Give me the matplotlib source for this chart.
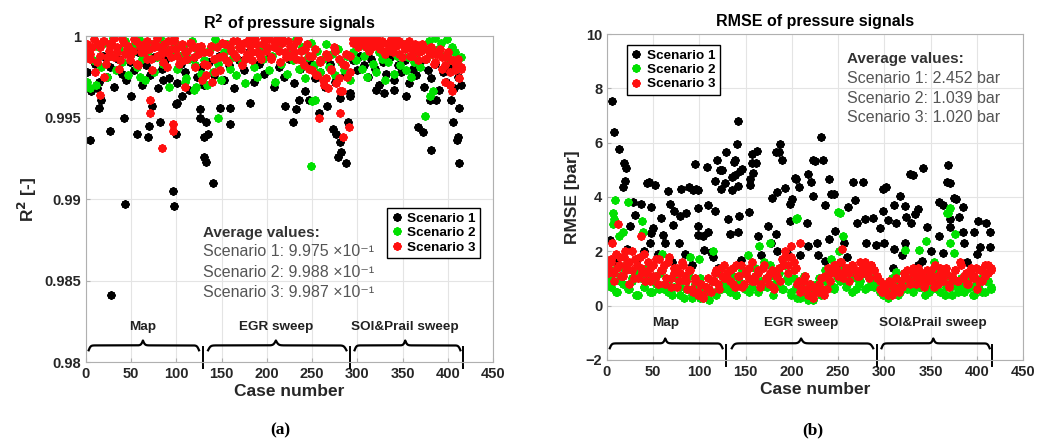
import numpy as np
import matplotlib as mpl
mpl.use('Agg')
import matplotlib.pyplot as plt
import matplotlib.transforms as mtransforms

plt.rcParams['font.family'] = ['Liberation Sans', 'DejaVu Sans']

## test segments (case ranges) and their labels
segments = [(1, 127), (130, 292), (295, 415)]
seg_labels = ['Map', 'EGR sweep', 'SOI&Prail sweep']
seg_centres = [63, 210, 353]
seg_braces = [(3, 125), (135, 288), (297, 414)]
seg_bounds = [129, 292, 417]

## R2 -- dense band per segment (Map, EGR, SOI)
r2_s1_band = [
    [0.9978, 0.9966, 0.9983, 0.9972, 0.9988, 0.9975, 0.9981, 0.9969, 0.9986, 0.9977,
     0.9973, 0.9984, 0.9979, 0.9990, 0.9970, 0.9982, 0.9976, 0.9987, 0.9968, 0.9980,
     0.9985, 0.9974, 0.9989, 0.9971, 0.9983, 0.9978, 0.9967, 0.9986, 0.9975, 0.9981],
    [0.9970, 0.9984, 0.9976, 0.9988, 0.9973, 0.9982, 0.9968, 0.9985, 0.9979, 0.9990,
     0.9972, 0.9983, 0.9977, 0.9987, 0.9969, 0.9981, 0.9975, 0.9986, 0.9971, 0.9980,
     0.9966, 0.9984, 0.9974, 0.9978, 0.9969, 0.9983, 0.9972, 0.9962, 0.9976, 0.9965],
    [0.9985, 0.9979, 0.9988, 0.9982, 0.9975, 0.9986, 0.9980, 0.9970, 0.9984, 0.9977,
     0.9987, 0.9973, 0.9982, 0.9978, 0.9985, 0.9971, 0.9980, 0.9976, 0.9984, 0.9969,
     0.9979, 0.9974, 0.9983, 0.9967, 0.9978, 0.9972, 0.9981, 0.9968, 0.9975, 0.9970],
]
r2_s1_case = [4, 12, 14, 17, 27, 28, 42, 43, 50, 56, 69, 70, 73, 82, 85, 96, 97, 100, 100,
              101, 106, 126, 126, 130, 131, 133, 141, 133, 135, 148, 159, 159, 181, 220,
              229, 232, 236, 247, 258, 266, 273, 276, 281, 279, 282, 288, 290, 292, 321,
              330, 341, 354, 367, 373, 382, 380, 387, 404, 406, 410, 411, 412, 413]
r2_s1_val = [0.9936, 0.9968, 0.9956, 0.9961, 0.9942, 0.9841, 0.9950, 0.9897, 0.9963, 0.9940,
             0.9938, 0.9945, 0.9957, 0.9947, 0.9973, 0.9905, 0.9896, 0.9940, 0.9958, 0.9959,
             0.9963, 0.9955, 0.9950, 0.9938, 0.9926, 0.9923, 0.9910, 0.9947, 0.9940, 0.9956,
             0.9956, 0.9946, 0.9959, 0.9957, 0.9947, 0.9955, 0.9961, 0.9961, 0.9953, 0.9957,
             0.9943, 0.9940, 0.9935, 0.9926, 0.9929, 0.9922, 0.9947, 0.9963, 0.9967, 0.9965,
             0.9967, 0.9963, 0.9944, 0.9941, 0.9930, 0.9961, 0.9961, 0.9961, 0.9947, 0.9936,
             0.9938, 0.9922, 0.9956]

r2_s2_band = [
    [0.9972, 0.9968, 0.9985, 0.9970, 0.9993, 0.9981, 0.9996, 0.9975, 0.9988, 0.9999,
     0.9979, 0.9992, 0.9984, 0.9997, 0.9976, 0.9989, 0.9994, 0.9981, 0.9998, 0.9986,
     0.9973, 0.9991, 0.9995, 0.9978, 0.9987, 0.9999, 0.9983, 0.9992, 0.9969, 0.9990,
     0.9996, 0.9980, 0.9988, 0.9994, 0.9974, 0.9986, 0.9997, 0.9982, 0.9991, 0.9977],
    [0.9985, 0.9970, 0.9992, 0.9978, 0.9998, 0.9983, 0.9973, 0.9990, 0.9995, 0.9980,
     0.9987, 0.9976, 0.9993, 0.9984, 0.9971, 0.9989, 0.9996, 0.9981, 0.9975, 0.9992,
     0.9986, 0.9999, 0.9979, 0.9988, 0.9972, 0.9994, 0.9983, 0.9997, 0.9977, 0.9990,
     0.9985, 0.9998, 0.9980, 0.9993, 0.9974, 0.9987, 0.9996, 0.9982, 0.9991, 0.9978,
     0.9986, 0.9995, 0.9981, 0.9989, 0.9976, 0.9992, 0.9984, 0.9979, 0.9988, 0.9973],
    [0.9990, 0.9985, 0.9994, 0.9980, 0.9988, 0.9975, 0.9992, 0.9983, 0.9978, 0.9990,
     0.9986, 0.9973, 0.9984, 0.9991, 0.9977, 0.9988, 0.9982, 0.9995, 0.9979, 0.9987,
     0.9975, 0.9984, 0.9990, 0.9981, 0.9993, 0.9986, 0.9997, 0.9989, 0.9999, 0.9992,
     0.9996, 0.9988, 0.9998, 0.9985, 0.9993, 0.9990, 0.9982, 0.9987],
]
r2_s2_case = [146, 249, 250, 253, 375, 380, 384, 60, 110, 120, 122]
r2_s2_val = [0.9950, 0.9920, 0.9960, 0.9961, 0.9951, 0.9963, 0.9966, 0.9975, 0.9972, 0.9967, 0.9969]

r2_s3_band = [
    [0.9990, 0.9986, 0.9993, 0.9978, 0.9995, 0.9988, 0.9997, 0.9983, 0.9991, 0.9996,
     0.9987, 0.9993, 0.9980, 0.9998, 0.9989, 0.9994, 0.9985, 0.9991, 0.9997, 0.9982,
     0.9990, 0.9995, 0.9986, 0.9992, 0.9979, 0.9996, 0.9988, 0.9993, 0.9984, 0.9990,
     0.9997, 0.9987, 0.9999, 0.9992, 0.9983, 0.9995, 0.9990, 0.9986, 0.9996, 0.9993,
     0.9981, 0.9989, 0.9994],
    [0.9983, 0.9976, 0.9990, 0.9972, 0.9986, 0.9993, 0.9979, 0.9988, 0.9995, 0.9984, 0.9991,
     0.9997, 0.9987, 0.9993, 0.9982, 0.9996, 0.9989, 0.9994, 0.9985, 0.9998, 0.9990, 0.9986,
     0.9995, 0.9991, 0.9998, 0.9987, 0.9993, 0.9999, 0.9984, 0.9996, 0.9990, 0.9997, 0.9988,
     0.9994, 0.9986, 0.9998, 0.9991, 0.9982, 0.9995, 0.9988, 0.9979, 0.9992, 0.9976, 0.9985,
     0.9973, 0.9989, 0.9968, 0.9980, 0.9993, 0.9971, 0.9986, 0.9966, 0.9982, 0.9975, 0.9988],
    [0.9996, 0.9999, 0.9993, 0.9998, 0.9995, 0.9999, 0.9991, 0.9997, 0.9994, 0.9998,
     0.9992, 0.9996, 0.9989, 0.9995, 0.9998, 0.9990, 0.9994, 0.9997, 0.9987, 0.9993,
     0.9996, 0.9988, 0.9992, 0.9995, 0.9985, 0.9991, 0.9994, 0.9986, 0.9990, 0.9993,
     0.9983, 0.9989, 0.9992, 0.9980, 0.9987, 0.9990, 0.9978, 0.9985, 0.9982, 0.9974, 0.9980],
]
r2_s3_band2 = [
    [0.9995, 0.9989, 0.9998, 0.9984, 0.9993, 0.9997, 0.9987, 0.9994, 0.9999, 0.9990,
     0.9985, 0.9996, 0.9992, 0.9988, 0.9998, 0.9983, 0.9994, 0.9990, 0.9997, 0.9986,
     0.9993, 0.9999, 0.9989, 0.9995, 0.9981, 0.9992, 0.9997, 0.9988, 0.9994, 0.9985,
     0.9991, 0.9996, 0.9987, 0.9993, 0.9990],
    [0.9990, 0.9982, 0.9994, 0.9978, 0.9987, 0.9996, 0.9985, 0.9993, 0.9989, 0.9997,
     0.9992, 0.9986, 0.9998, 0.9990, 0.9995, 0.9988, 0.9999, 0.9993, 0.9986, 0.9996,
     0.9991, 0.9998, 0.9987, 0.9994, 0.9990, 0.9997, 0.9985, 0.9992, 0.9980, 0.9988,
     0.9976, 0.9984, 0.9970, 0.9987, 0.9979, 0.9991, 0.9974, 0.9983, 0.9989, 0.9978],
    [0.9998, 0.9995, 0.9999, 0.9997, 0.9993, 0.9998, 0.9996, 0.9999, 0.9994, 0.9997,
     0.9991, 0.9996, 0.9993, 0.9998, 0.9989, 0.9995, 0.9992, 0.9997, 0.9988, 0.9994,
     0.9990, 0.9995, 0.9986, 0.9992, 0.9989, 0.9984, 0.9991, 0.9987, 0.9982, 0.9990,
     0.9985, 0.9979, 0.9986, 0.9981],
]
r2_s3_case = [15, 20, 71, 71, 84, 96, 96, 109, 128, 258, 265, 281, 281, 284, 291, 397, 402, 405]
r2_s3_val = [0.9964, 0.9975, 0.9961, 0.9953, 0.9931, 0.9946, 0.9942, 0.9969, 0.9973, 0.9950,
             0.9974, 0.9966, 0.9953, 0.9938, 0.9944, 0.9972, 0.9970, 0.9966]

## RMSE [bar]
rmse_s1_case = [5, 8, 13, 18, 21, 20, 17, 28, 30, 25, 37, 43, 45, 52, 48, 58, 48, 50, 47, 61,
                63, 66, 68, 71, 73, 79, 78, 80, 85, 89, 93, 95, 96, 99, 99, 98, 98, 104, 105,
                108, 109, 109, 113, 115, 117, 117, 119, 122, 123, 124, 128, 129, 131, 133, 3,
                10, 22, 33, 40, 55, 70, 84, 92, 120,
                135, 135, 137, 138, 141, 142, 139, 142, 143, 142, 144, 145, 146, 154, 155, 155,
                157, 157, 158, 161, 162, 163, 167, 174, 177, 179, 183, 183, 184, 184, 186, 187,
                189, 193, 195, 198, 198, 200, 203, 205, 208, 209, 216, 218, 218, 221, 223, 223,
                225, 227, 228, 232, 234, 236, 236, 240, 240, 242, 246, 247, 256, 261, 266, 268,
                270, 277, 279, 280, 288, 291, 260, 250,
                295, 299, 299, 300, 302, 304, 309, 310, 311, 311, 313, 317, 319, 322, 322, 323,
                329, 328, 331, 333, 336, 336, 341, 342, 346, 351, 359, 359, 363, 364, 368, 369,
                371, 371, 371, 375, 378, 381, 385, 385, 386, 397, 400, 401, 404, 410, 414, 414,
                390, 355]
rmse_s1_val = [7.55, 6.38, 5.78, 5.24, 5.08, 4.60, 4.35, 3.82, 3.33, 2.95, 3.75, 4.52, 4.55, 4.45,
               3.62, 3.21, 2.66, 2.85, 2.30, 2.60, 2.30, 4.22, 3.75, 2.96, 3.50, 3.30, 2.30, 4.28,
               3.40, 4.37, 4.25, 5.23, 4.30, 4.27, 3.60, 2.95, 2.60, 2.55, 2.05, 5.10, 3.70, 2.72,
               1.98, 1.80, 4.60, 3.48, 5.35, 5.00, 4.30, 4.98, 4.50, 5.65, 3.20, 2.62, 2.40,
               1.60, 2.10, 1.70, 2.00, 1.90, 1.60, 1.90, 1.50, 1.40,
               4.74, 4.25, 5.30, 5.35, 5.95, 6.79, 4.80, 4.40, 3.30, 2.70, 4.95, 1.68, 5.04, 3.45,
               4.45, 4.65, 5.57, 5.25, 4.90, 5.25, 5.70, 2.57, 1.87, 2.92, 2.30, 3.98, 2.63, 5.65,
               4.20, 2.00, 5.65, 5.96, 5.38, 4.33, 1.93, 3.75, 3.10, 3.93, 4.69, 4.68, 4.38, 1.87,
               3.05, 2.18, 4.85, 4.56, 4.05, 5.35, 5.33, 2.30, 1.87, 6.20, 5.35, 3.70, 1.63, 4.68,
               2.44, 4.10, 4.10, 2.73, 2.30, 3.65, 4.55, 3.89, 3.05, 4.55, 3.20, 2.30, 3.23, 2.22,
               1.80, 1.50,
               2.87, 4.31, 3.50, 2.30, 4.35, 3.17, 1.38, 3.70, 2.10, 0.95, 3.05, 4.03, 1.87, 3.66,
               2.30, 3.26, 3.05, 4.85, 4.80, 3.38, 3.56, 1.50, 1.65, 5.08, 2.90, 2.00, 3.80, 2.57,
               3.72, 1.93, 4.55, 5.16, 4.50, 3.20, 2.90, 3.95, 3.92, 3.25, 3.62, 2.70, 2.30, 2.70,
               1.90, 3.10, 2.15, 3.05, 2.70, 2.15, 1.60, 1.40]

rmse_s2_band = [
    [1.0, 0.7, 1.3, 0.5, 1.1, 0.8, 1.5, 0.6, 0.9, 1.2,
     0.4, 1.0, 0.7, 1.4, 0.5, 0.9, 1.1, 0.6, 1.3, 0.8,
     0.5, 1.0, 0.7, 1.2, 0.4, 0.9, 0.6, 1.1, 0.3, 0.8,
     0.5, 1.0, 0.3, 0.7, 0.2, 0.9, 0.5, 1.2, 0.6, 0.9],
    [0.8, 0.5, 1.1, 0.4, 0.9, 1.3, 0.6, 1.0, 0.7, 1.4,
     0.5, 0.9, 1.6, 0.7, 1.1, 0.4, 0.8, 1.2, 0.6, 1.5,
     0.9, 0.5, 1.0, 0.3, 0.7, 1.1, 0.4, 0.8, 0.2, 0.6,
     1.0, 0.5, 1.3, 0.8, 1.7, 0.6, 1.1, 0.9, 1.4, 0.7,
     1.2, 0.5, 1.0, 0.8, 1.3, 0.6, 1.1, 0.9, 0.7, 1.0],
    [0.6, 0.4, 0.8, 0.5, 1.0, 0.7, 0.4, 0.9, 1.2, 0.6,
     0.8, 0.5, 1.1, 0.7, 0.9, 0.4, 1.0, 0.6, 1.3, 0.8,
     0.5, 0.9, 0.7, 1.1, 0.4, 0.8, 0.6, 1.0, 0.5, 0.9,
     0.7, 0.4, 0.8, 0.6, 1.0, 0.5, 0.9, 0.7],
]
rmse_s2_band2 = [
    [0.8, 1.2, 0.5, 0.9, 1.4, 0.6, 1.0, 0.4, 1.3, 0.7, 1.1, 0.5, 0.8, 1.2, 0.6,
     0.9, 0.4, 1.0, 0.7, 0.3, 0.6, 0.4, 0.8, 0.3, 0.6, 0.5, 0.9, 0.4, 0.7, 1.0],
    [0.6, 1.0, 0.4, 0.8, 1.2, 0.5, 0.9, 1.3, 0.7, 1.0, 1.5, 0.8, 1.2, 0.6, 1.0, 0.4, 0.7, 0.3,
     0.6, 0.2, 0.5, 0.8, 0.4, 0.9, 1.2, 0.7, 1.0, 1.4, 0.8, 1.1, 0.6, 0.9, 1.2, 0.7, 1.0, 0.8],
    [0.5, 0.7, 0.3, 0.6, 0.9, 0.5, 0.8, 1.0, 0.6, 0.9, 0.7, 1.1, 0.5, 0.8,
     0.6, 1.0, 0.4, 0.7, 0.9, 0.5, 0.8, 0.6, 1.0, 0.4, 0.7, 0.5, 0.9, 0.6],
]
rmse_s2_case = [9, 23, 7, 8, 13, 17, 38, 39, 7, 90, 205, 250, 252, 206, 176, 255, 251, 164, 153,
                368, 371, 369, 376, 371, 345, 338, 322, 375, 354, 313, 60, 100, 115, 3]
rmse_s2_val = [3.88, 3.83, 3.40, 3.20, 2.55, 2.70, 3.10, 2.70, 3.00, 1.80, 3.20, 3.45, 3.40, 3.23,
               2.30, 2.57, 2.00, 2.18, 1.87, 3.40, 3.58, 3.40, 2.63, 2.30, 2.37, 2.05, 2.05, 1.93,
               1.60, 1.25, 1.90, 1.70, 2.00, 1.00]

rmse_s3_band = [
    [1.4, 1.7, 1.2, 1.9, 1.5, 1.1, 1.8, 1.3, 1.6, 2.0,
     1.0, 1.5, 1.8, 1.2, 0.9, 1.6, 1.4, 1.1, 1.7, 0.8,
     1.3, 1.5, 1.0, 1.8, 0.7, 1.2, 1.4, 0.9, 1.6, 1.1,
     0.6, 1.3, 0.5, 0.9, 0.4, 0.8, 0.3, 0.7, 1.0, 0.5,
     0.9, 1.3, 0.6, 1.1, 1.5],
    [1.2, 0.9, 1.4, 0.7, 1.1, 1.5, 0.8, 1.3, 1.0, 1.6,
     0.9, 1.2, 0.7, 1.4, 1.0, 0.8, 1.3, 0.6, 1.1, 0.9,
     1.5, 1.8, 1.2, 2.2, 1.6, 1.4, 0.9, 0.6, 1.1, 0.4,
     0.8, 0.3, 0.7, 0.5, 1.0, 0.4, 0.6, 0.9, 1.3, 1.5,
     1.1, 1.6, 1.2, 1.4, 0.9, 1.5, 1.3, 1.1, 1.6, 1.2,
     1.4, 1.0, 1.5, 1.3, 1.1],
    [0.9, 0.5, 0.7, 0.4, 0.8, 0.6, 1.0, 0.5, 0.7, 1.1,
     1.3, 0.9, 1.2, 0.8, 1.4, 1.0, 0.7, 1.3, 1.1, 0.9,
     1.5, 0.8, 1.2, 1.0, 1.4, 0.7, 1.1, 1.3, 0.9, 1.6,
     1.0, 1.2, 0.8, 1.4, 1.1, 0.6, 1.3, 0.9, 1.5, 1.2, 1.4],
]
rmse_s3_band2 = [
    [1.2, 1.6, 0.9, 1.4, 1.8, 1.1, 1.5, 0.8, 1.3, 1.7, 1.0, 1.4, 1.9, 1.2, 0.9, 1.5, 1.1, 1.7,
     1.3, 0.8, 1.6, 1.0, 1.4, 0.7, 1.2, 1.5, 0.9, 1.3, 0.6, 1.0, 0.5, 0.8, 0.4, 0.7, 0.6, 0.9,
     1.2, 0.8, 1.4, 1.0],
    [1.0, 1.3, 0.8, 1.5, 1.1, 0.7, 1.2, 1.4, 0.9, 1.1, 1.3, 0.8, 1.5, 1.0, 1.2, 0.7, 1.1, 1.4,
     1.7, 2.0, 1.5, 1.8, 1.3, 0.8, 0.5, 0.9, 0.6, 0.4, 0.7, 0.5, 0.8, 0.6, 1.1, 1.4, 1.2, 1.5,
     1.3, 1.6, 1.0, 1.4, 1.2, 1.5, 1.3, 1.1, 1.4, 1.6, 1.2, 1.5, 1.3, 1.0],
    [0.6, 0.8, 0.5, 0.9, 0.4, 0.7, 0.6, 0.9, 1.2, 1.0, 0.8, 1.4, 1.1, 0.9, 1.2, 0.8, 1.0, 1.3,
     0.7, 1.1, 1.4, 0.9, 1.2, 0.8, 1.0, 1.3, 0.9, 1.5, 1.1, 0.8, 1.2, 1.0, 1.4, 0.9, 1.3, 1.1,
     1.5, 1.3],
]
rmse_s3_case = [12, 37, 209, 254, 5, 20]
rmse_s3_val = [3.00, 2.55, 2.30, 2.10, 2.30, 2.00]

r2_avg = ['Scenario 1: 9.975 \u00d710\u207b\u00b9',
          'Scenario 2: 9.988 \u00d710\u207b\u00b9',
          'Scenario 3: 9.987 \u00d710\u207b\u00b9']
rmse_avg = ['Scenario 1: 2.452 bar', 'Scenario 2: 1.039 bar', 'Scenario 3: 1.020 bar']

colors = ['#000000', '#00e000', '#ff1010']
names = ['Scenario 1', 'Scenario 2', 'Scenario 3']
MS, MEW = 6, 1.5


def band_xy(band):
    # spread the dense band of each segment along its case range
    xs = [np.linspace(a, b, len(v)) for (a, b), v in zip(segments, band)]
    return np.concatenate(xs), np.concatenate([np.asarray(v) for v in band])


def brace(ax, x0, x1, xm, yb, yt):
    trans = mtransforms.blended_transform_factory(ax.transData, ax.transAxes)
    k = 56.0
    t = np.linspace(0, 1, 160)
    half = 1/(1+np.exp(-k*t)) + 1/(1+np.exp(-k*(t-1)))   # 0.5 .. 1 .. 1.5
    yl = yb + (half - 0.5)*(yt - yb)
    xl = x0 + t*(xm - x0)
    xr = xm + t*(x1 - xm)
    xx = np.concatenate([xl, xr])
    yy = np.concatenate([yl, yl[::-1]])
    ax.plot(xx, yy, c='k', lw=1.6, transform=trans, clip_on=False)


def series(ax, bands, xc, yc, color, label):
    xs, ys = [np.asarray(xc, float)], [np.asarray(yc, float)]
    for band in bands:
        x, y = band_xy(band)
        xs.insert(0, x)
        ys.insert(0, y)
    ax.plot(np.concatenate(xs), np.concatenate(ys), ls='none', marker=(8, 2, 0),
            ms=MS, mew=MEW, color=color, label=label)


def decorate(ax, lab_y):
    trans = mtransforms.blended_transform_factory(ax.transData, ax.transAxes)
    for (a, b), xm, lab in zip(seg_braces, seg_centres, seg_labels):
        brace(ax, a, b, xm, 0.036, 0.066)
        ax.text(xm, lab_y, lab, transform=trans, ha='center', va='center',
                fontsize=9.7, fontweight='bold', color='#222222')
    for xb in seg_bounds:
        ax.plot([xb, xb], [-0.018, 0.045], c='k', lw=1.4, transform=trans, clip_on=False)
    ax.set_xlim(0, 450)
    ax.set_xticks(np.arange(0, 451, 50))
    ax.grid(True, color='#e4e4e4', lw=0.8)
    ax.set_axisbelow(True)
    for s in ax.spines.values():
        s.set_color('#b0b0b0')
    ax.tick_params(direction='in', length=3, color='#b0b0b0', labelsize=10.5, labelcolor='#262626')
    for lbl in ax.get_xticklabels() + ax.get_yticklabels():
        lbl.set_fontweight('bold')
    ax.set_xlabel('Case number', fontsize=12.5, fontweight='bold', color='#262626', labelpad=2)


fig = plt.figure(figsize=(10.56, 4.41), dpi=100)
ax1 = fig.add_axes([0.0814, 0.1791, 0.3854, 0.7392])
ax2 = fig.add_axes([0.5748, 0.1837, 0.3939, 0.7392])

## (a) R2
series(ax1, [r2_s1_band], r2_s1_case, r2_s1_val, colors[0], names[0])
series(ax1, [r2_s2_band], r2_s2_case, r2_s2_val, colors[1], names[1])
series(ax1, [r2_s3_band, r2_s3_band2], r2_s3_case, r2_s3_val, colors[2], names[2])
ax1.set_ylim(0.98, 1.0)
ax1.set_yticks([0.98, 0.985, 0.99, 0.995, 1.0])
ax1.set_yticklabels(['0.98', '0.985', '0.99', '0.995', '1'])
decorate(ax1, 0.107)
ax1.set_ylabel('R$^\\mathbf{2}$ [-]', fontsize=12.5, fontweight='bold', color='#262626', labelpad=4)
ax1.set_title('R$^\\mathbf{2}$ of pressure signals', fontsize=11.5, fontweight='bold', pad=5)
ax1.legend(loc='upper left', bbox_to_anchor=(0.74, 0.472), frameon=True, fancybox=False,
           edgecolor='k', framealpha=1, handlelength=0.8, handletextpad=0.4, borderpad=0.3,
           labelspacing=0.15, borderaxespad=0, prop={'weight': 'bold', 'size': 9.7})
ax1.text(129, 0.98791, 'Average values:', fontsize=11, fontweight='bold', color='#333333', va='center')
for yy, s in zip([0.98675, 0.98552, 0.98429], r2_avg):
    ax1.text(129, yy, s, fontsize=11.5, color='#555555', va='center')

## (b) RMSE
series(ax2, [], rmse_s1_case, rmse_s1_val, colors[0], names[0])
series(ax2, [rmse_s2_band, rmse_s2_band2], rmse_s2_case, rmse_s2_val, colors[1], names[1])
series(ax2, [rmse_s3_band, rmse_s3_band2], rmse_s3_case, rmse_s3_val, colors[2], names[2])
ax2.set_ylim(-2, 10)
ax2.set_yticks(np.arange(-2, 11, 2))
decorate(ax2, 0.113)
ax2.set_ylabel('RMSE [bar]', fontsize=12.5, fontweight='bold', color='#262626', labelpad=4)
ax2.set_title('RMSE of pressure signals', fontsize=11.5, fontweight='bold', pad=6)
ax2.legend(loc='upper left', bbox_to_anchor=(0.048, 0.966), frameon=True, fancybox=False,
           edgecolor='k', framealpha=1, handlelength=0.8, handletextpad=0.4, borderpad=0.3,
           labelspacing=0.15, borderaxespad=0, prop={'weight': 'bold', 'size': 9.7})
ax2.text(259.7, 9.08, 'Average values:', fontsize=11, fontweight='bold', color='#333333', va='center')
for yy, s in zip([8.35, 7.62, 6.92], rmse_avg):
    ax2.text(259.7, yy, s, fontsize=11.5, color='#555555', va='center')

fig.text(280/1056, 1-430/441, '(a)', family='Liberation Serif', fontweight='bold',
         fontsize=12.5, ha='center', va='center')
fig.text(813/1056, 1-430/441, '(b)', family='Liberation Serif', fontweight='bold',
         fontsize=12.5, ha='center', va='center')

fig.savefig('out.png', dpi=100)
